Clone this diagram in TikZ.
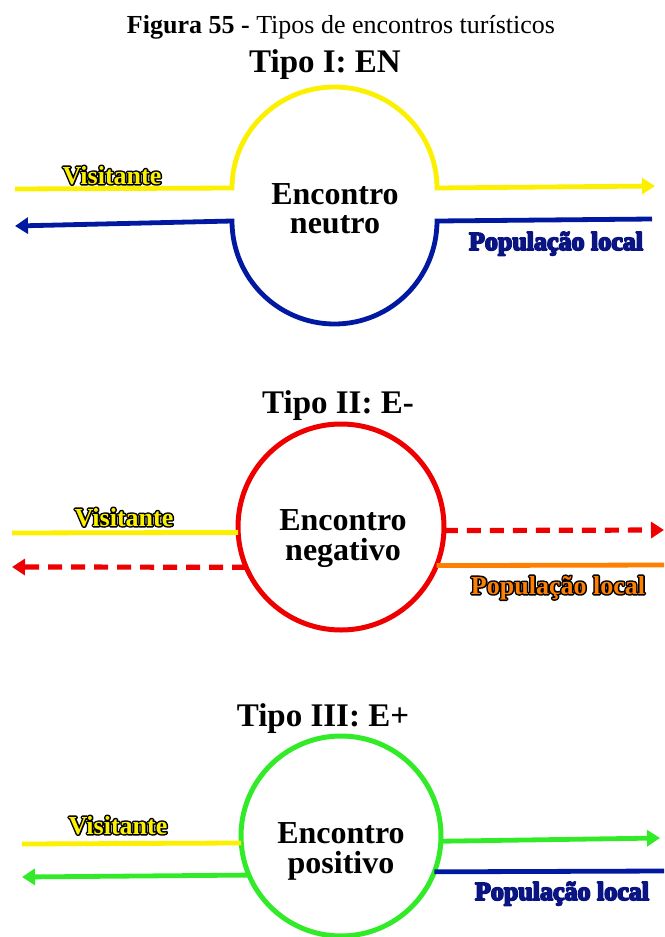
\documentclass[tikz,border=0pt]{standalone}
\usepackage{fontspec}
\setmainfont{Liberation Serif}
\usetikzlibrary{arrows.meta}
\definecolor{cyel}{RGB}{250,240,0}
\definecolor{cblue}{RGB}{0,25,160}
\definecolor{cnavy}{RGB}{10,20,130}
\definecolor{cred}{RGB}{238,0,0}
\definecolor{corange}{RGB}{255,128,0}
\definecolor{cgreen}{RGB}{50,235,40}
% outlined text: a stroked copy below, the filled text on top
\newcommand\outlinetext[3]{\rlap{\special{pdf:literal direct #1 w 1 j 1 J #2 RG 1 Tr}#3\special{pdf:literal direct 0 Tr}}#3}
\begin{document}
\begin{tikzpicture}[x=1pt,y=-1pt,
  flow/.style={line width=4.8pt},
  tipend/.style={-{Triangle[length=13pt,width=16pt]}},
  dashflow/.style={line width=5.2pt, dash pattern=on 14pt off 9pt},
  ring/.style={circle, draw, line width=5pt, minimum size=206pt, inner sep=0pt, outer sep=0pt},
  ttl/.style={font=\fontsize{33}{33}\selectfont\bfseries, anchor=base, inner sep=0pt},
  enc/.style={font=\fontsize{32}{32}\selectfont\bfseries, anchor=base, inner sep=0pt},
  tag/.style={font=\fontsize{26}{26}\selectfont\bfseries, anchor=base, inner sep=0pt}
]
\path[use as bounding box] (0,0) rectangle (664,937);

% heading
\node[anchor=base, inner sep=0pt, font=\fontsize{26}{26}\selectfont] (fig) at (341,33) {\textbf{Figura 55 -} Tipos de encontros turísticos};

% ---------- Tipo I ----------
\node[ttl] (t1) at (325,72) {Tipo I: EN};
\coordinate (y1s) at (15,189);
\coordinate (y1a) at (232,188);
\coordinate (y1e) at (655,186);
\coordinate (b1s) at (652,219);
\coordinate (b1a) at (437,221);
\coordinate (b1e) at (15,226);
\draw[flow, cyel, tipend] (y1s) -- (y1a) arc[start angle=180, end angle=360, x radius=102.5, y radius=101] -- (y1e);
\draw[flow, cblue, tipend] (b1s) -- (b1a) arc[start angle=0, end angle=180, x radius=102.5, y radius=103] -- (b1e);
\node[enc] (e1a) at (335,204) {Encontro};
\node[enc] (e1b) at (335,233) {neutro};
\node[tag, text=cyel] (v1) at (112,184) {\outlinetext{3}{0 0 0}{Visitante}};
\node[tag, text=cnavy] (p1) at (556,250) {\outlinetext{1.8}{0.04 0.08 0.5}{População local}};

% ---------- Tipo II ----------
\node[ttl] (t2) at (338,413) {Tipo II: E-};
\node[ring, draw=cred] (c2) at (341,527) {};
\coordinate (y2s) at (12,533);
\coordinate (r2l) at (12,567);
\coordinate (r2r) at (664,530);
\coordinate (o2e) at (664,565);
\draw[flow, cyel] (y2s) -- (c2.183);
\draw[dashflow, cred, tipend] (c2.203) -- (r2l);
\draw[dashflow, cred, tipend] (c2.-2) -- (r2r);
\draw[flow, corange] (c2.-22) -- (o2e);
\node[enc] (e2a) at (343,530) {Encontro};
\node[enc] (e2b) at (343,560) {negativo};
\node[tag, text=cyel] (v2) at (124,526) {\outlinetext{3}{0 0 0}{Visitante}};
\node[tag, text=corange] (p2) at (558,594) {\outlinetext{3}{0 0 0}{População local}};

% ---------- Tipo III ----------
\node[ttl] (t3) at (323,726) {Tipo III: E+};
\node[ring, draw=cgreen, minimum size=200pt] (c3) at (341,836) {};
\coordinate (y3s) at (22,844);
\coordinate (g3l) at (22,877);
\coordinate (g3r) at (660,838);
\coordinate (b3e) at (664,871);
\draw[flow, cyel] (y3s) -- (c3.184);
\draw[flow, cgreen, tipend] (c3.203) -- (g3l);
\draw[flow, cgreen, tipend] (c3.-3) -- (g3r);
\draw[flow, cblue] (c3.-21) -- (b3e);
\node[enc] (e3a) at (341,843) {Encontro};
\node[enc] (e3b) at (341,873) {positivo};
\node[tag, text=cyel] (v3) at (118,834) {\outlinetext{3}{0 0 0}{Visitante}};
\node[tag, text=cnavy] (p3) at (562,900) {\outlinetext{1.8}{0.04 0.08 0.5}{População local}};
\end{tikzpicture}
\end{document}
